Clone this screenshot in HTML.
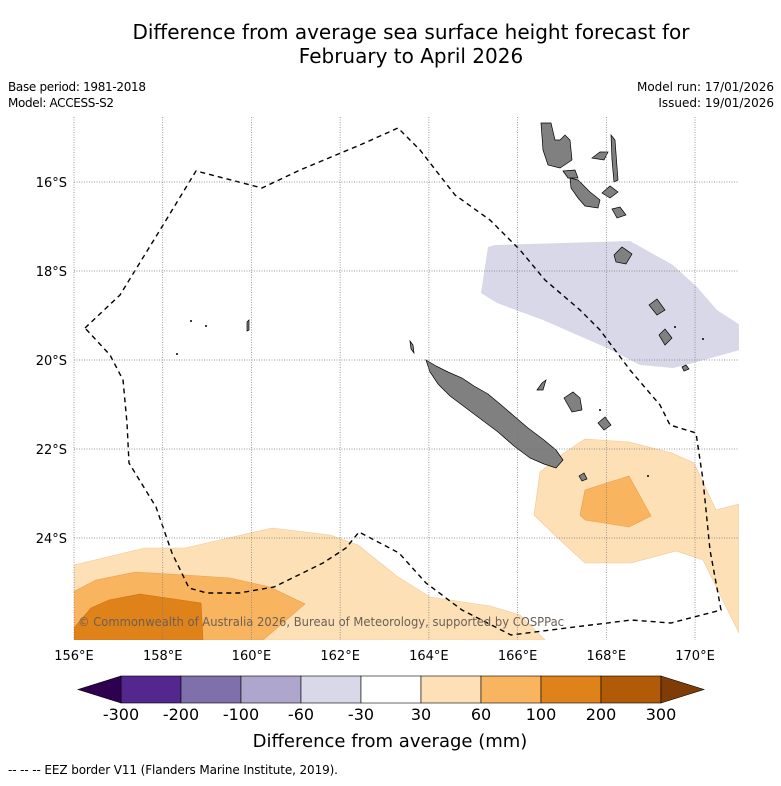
<!DOCTYPE html>
<html><head><meta charset="utf-8"><style>
body{margin:0;background:#fff;width:781px;height:781px;overflow:hidden}
svg text{font-family:"DejaVu Sans","Liberation Sans",sans-serif}
</style></head><body>
<svg id="c" width="781" height="781" xmlns="http://www.w3.org/2000/svg">
<text x="411" y="39" font-size="20" text-anchor="middle">Difference from average sea surface height forecast for</text>
<text x="411" y="63" font-size="20" text-anchor="middle">February to April 2026</text>
<text x="8" y="91" font-size="12" textLength="138">Base period: 1981-2018</text>
<text x="8" y="107" font-size="12" textLength="106">Model: ACCESS-S2</text>
<text x="774" y="91" font-size="12" text-anchor="end">Model run: 17/01/2026</text>
<text x="774" y="107" font-size="12" text-anchor="end">Issued: 19/01/2026</text>
<g id="map"></g>
<g id="cbar"></g>
<text x="390" y="747" font-size="18" text-anchor="middle">Difference from average (mm)</text>
<text x="8" y="774" font-size="12" textLength="330">--  --  -- EEZ border V11 (Flanders Marine Institute, 2019).</text>
</svg>
<script>
const lonTicks=[156,158,160,162,164,166,168,170];
const latTicks=[16,18,20,22,24];
const cbLevels=[-300,-200,-100,-60,-30,30,60,100,200,300];
const cbColors=['#54278f','#7f6fab','#aea6cc','#d8d8e8','#ffffff','#fde0b6','#f9b45f','#e0821a','#b15a08'];
const cbEndColors=['#2d0050','#7f3c07'];
const X0=74,X1=739,Y0=117,Y1=640;
const x=lon=>X0+(lon-156)*44.36;
const y=lat=>182+(lat-16)*44.5;
const lonOf=px=>156+(px-X0)/44.36, latOf=py=>16+(py-182)/44.5;
const NS='http://www.w3.org/2000/svg';
const map=document.getElementById('map');
function mk(tag,attrs,parent){const e=document.createElementNS(NS,tag);for(const k in attrs)e.setAttribute(k,attrs[k]);(parent||map).appendChild(e);return e;}
function geo(pts){return pts.map(p=>[lonOf(p[0]),latOf(p[1])]);}
function poly(g,fill,stroke,sw,name){const e=mk('polygon',{points:g.map(p=>x(p[0]).toFixed(1)+','+y(p[1]).toFixed(1)).join(' '),fill:fill,stroke:stroke||'none','stroke-width':sw||0});

return e;}
const clip=mk('clipPath',{id:'mc'});mk('rect',{x:X0,y:Y0,width:X1-X0,height:Y1-Y0},clip);
const g=mk('g',{'clip-path':'url(#mc)'});
function P(gg,pts,fill,stroke,sw,name){const e=poly(geo(pts),fill,stroke,sw,name);gg.appendChild(e);return e;}
P(g,[[74,565],[145,548],[185,548],[272,528],[330,535],[358,545],[398,577],[430,597],[490,606],[520,615],[545,640],[74,640]],'#fde0b6','#f0c898',0.6,'contour-30-60-west');
P(g,[[73,592],[96,580],[136,572],[185,575],[230,578],[270,587],[305,604],[263,640],[74,640]],'#f9b45f','#e8a050',0.6,'contour-60-100-west');
P(g,[[74,628],[91,608],[109,600],[140,594],[201,603],[203,640],[74,640]],'#e0821a','#d07010',0.6,'contour-100-200-west');
P(g,[[564,453],[585,439],[629,442],[672,453],[694,463],[716,510],[739,504],[739,633],[703,560],[676,551],[631,563],[585,563],[560,540],[534,515],[540,472]],'#fde0b6','#f0c898',0.6,'contour-30-60-east');
P(g,[[580,515],[585,490],[629,476],[651,516],[629,527],[585,520]],'#f9b45f','#e8a050',0.6,'contour-60-100-east');
P(g,[[488,247],[495,245],[630,241],[673,265],[697,287],[717,310],[740,325],[740,350],[693,363],[673,368],[640,365],[607,348],[543,320],[497,303],[481,293]],'#d8d8e8','none',0,'contour-neg30-neg60');
lonTicks.forEach(l=>{const e=mk('line',{x1:x(l),x2:x(l),y1:Y0,y2:Y1,stroke:'#777','stroke-width':0.7,'stroke-dasharray':'1,1.5'});


const t=mk('text',{x:x(l),y:660,'font-size':13,'text-anchor':'middle'});t.textContent=l+'°E';

});
latTicks.forEach(l=>{const e=mk('line',{x1:X0,x2:X1,y1:y(l),y2:y(l),stroke:'#777','stroke-width':0.7,'stroke-dasharray':'1,1.5'});


const t=mk('text',{x:67,y:y(l)+5,'font-size':13,'text-anchor':'end'});t.textContent=l+'°S';

});
const isl=[
[[426,360],[436,366],[448,372],[462,378],[474,386],[488,394],[500,404],[514,416],[528,428],[544,440],[556,450],[563,460],[556,468],[544,464],[530,458],[514,446],[498,432],[482,420],[466,408],[450,396],[438,384],[430,372]],
[[541,123],[551,123],[555,140],[560,140],[565,135],[570,140],[572,160],[560,168],[548,165],[543,150]],
[[570,178],[578,180],[590,192],[600,200],[598,208],[585,206],[578,198],[571,188]],
[[611,135],[615,140],[618,180],[614,182],[612,160]],
[[592,158],[600,152],[608,152],[604,160]],
[[602,193],[610,186],[618,192],[610,198]],
[[614,255],[622,247],[632,254],[626,264],[616,262]],
[[649,305],[657,299],[665,310],[657,315]],
[[659,335],[665,329],[672,338],[665,345]],
[[564,398],[573,392],[580,398],[582,410],[572,412]],
[[598,423],[605,417],[611,425],[604,430]],
[[537,390],[542,383],[546,380],[543,390]],
[[579,476],[584,473],[587,479],[582,481]],
[[682,367],[686,365],[689,369],[684,371]],
[[247,322],[249,320],[249,330],[247,331]],
[[410,341],[413,345],[414,353],[411,349]],
[[563,171],[575,170],[578,178],[568,178]],
[[612,209],[620,207],[626,215],[617,218]]];
isl.forEach((p,i)=>P(g,p,'#808080','#000',0.7,'island-'+i));
[[191,321],[206,326],[177,354],[675,327],[703,339],[600,410],[648,476]].forEach((p,i)=>{const e=mk('circle',{cx:x(lonOf(p[0])),cy:y(latOf(p[1])),r:1,fill:'#000'},g);

});
const eez=geo([[85,328],[120,295],[160,230],[196,171],[262,188],[300,170],[360,145],[398,128],[420,150],[455,195],[490,220],[520,250],[545,280],[580,310],[600,330],[630,370],[660,405],[670,425],[696,433],[703,480],[710,550],[721,610],[671,623],[631,620],[551,630],[511,635],[462,610],[426,583],[399,553],[359,532],[346,548],[323,563],[274,587],[239,593],[207,593],[189,588],[172,553],[156,507],[129,463],[127,423],[123,380],[110,355],[85,328]]);
const ez=mk('polyline',{points:eez.map(p=>x(p[0]).toFixed(1)+','+y(p[1]).toFixed(1)).join(' '),fill:'none',stroke:'#000','stroke-width':1.4,'stroke-dasharray':'5,4'},g);


const cp=mk('text',{x:78,y:626,'font-size':12,fill:'#6b5f55',textLength:486,lengthAdjust:'spacingAndGlyphs'},g);cp.textContent='© Commonwealth of Australia 2026, Bureau of Meteorology, supported by COSPPac';


const cb=document.getElementById('cbar');
const CB0=121,CBW=60,CBY=676,CBH=27;
const cx=i=>CB0+i*CBW;
cbColors.forEach((c,i)=>{const r=mk('rect',{x:cx(i),y:CBY,width:CBW,height:CBH,fill:c,stroke:'#000','stroke-width':0.6},cb);

});
const n=cbColors.length;
const lt=mk('polygon',{points:`${CB0},${CBY} 78,${CBY+CBH/2} ${CB0},${CBY+CBH}`,fill:cbEndColors[0],stroke:'#000','stroke-width':0.6},cb);


const rt=mk('polygon',{points:`${cx(n)},${CBY} 704,${CBY+CBH/2} ${cx(n)},${CBY+CBH}`,fill:cbEndColors[1],stroke:'#000','stroke-width':0.6},cb);


cbLevels.forEach((v,i)=>{const t=mk('text',{x:cx(i),y:720,'font-size':16,'text-anchor':'middle'},cb);t.textContent=v;

});
</script>
</body></html>
